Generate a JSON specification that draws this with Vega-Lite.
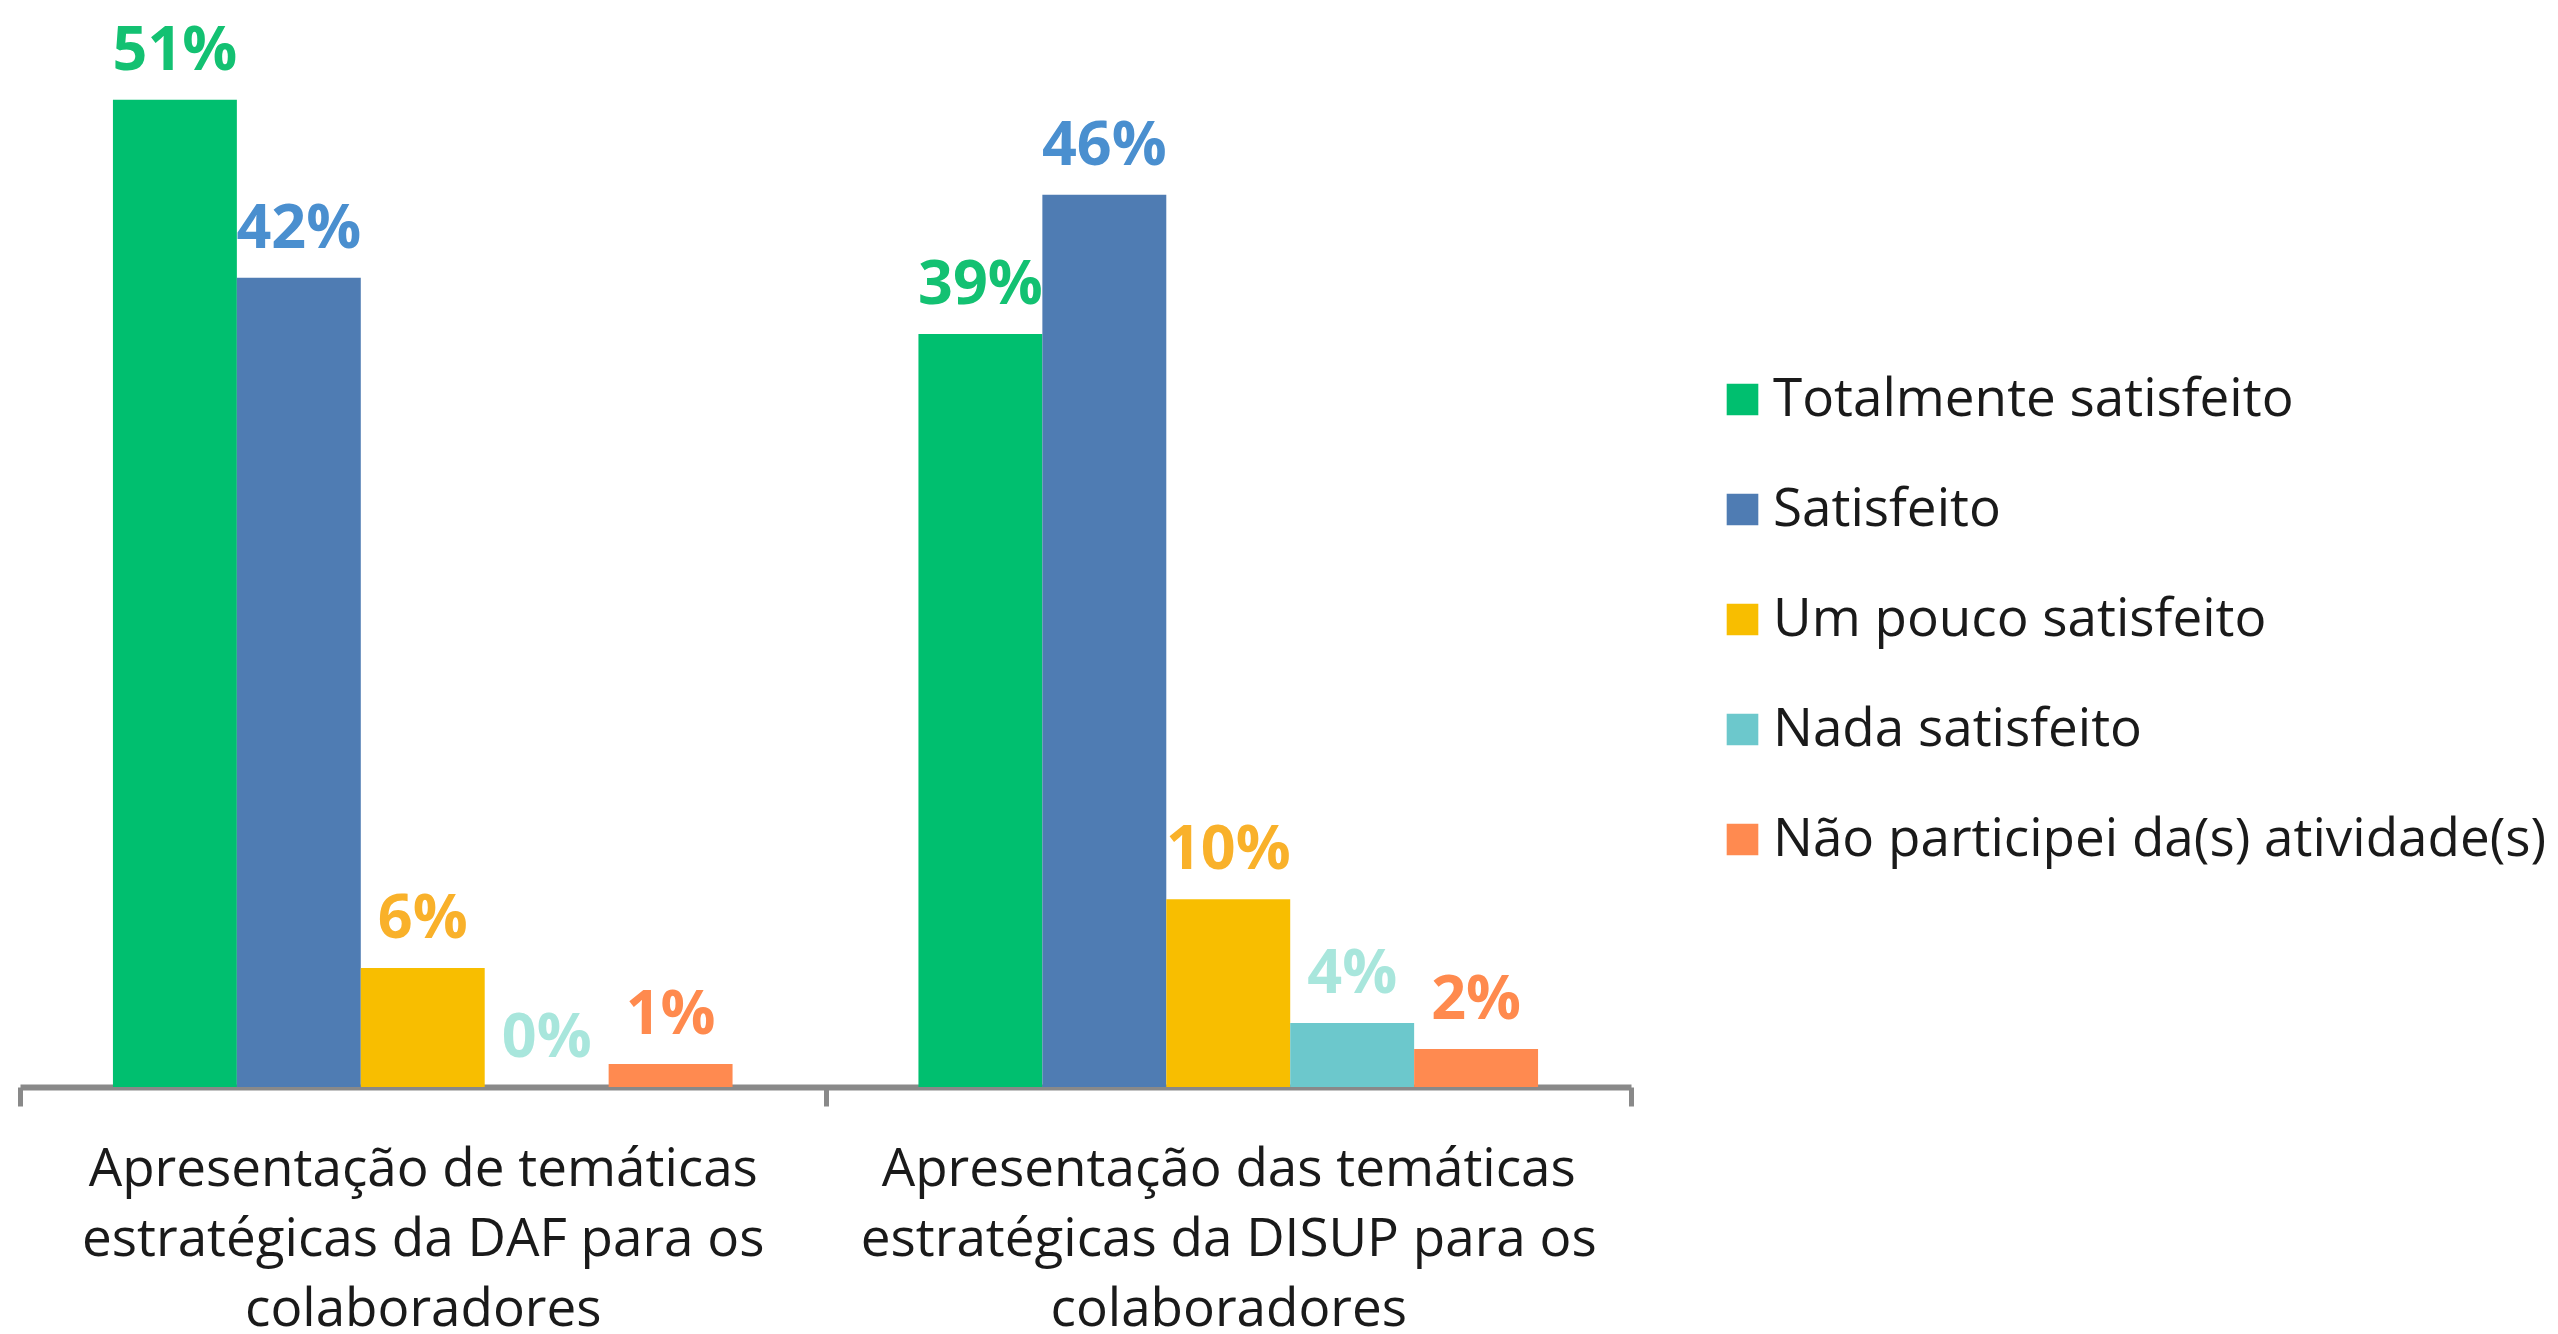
{
  "$schema": "https://vega.github.io/schema/vega-lite/v6.json",
  "autosize": "none",
  "width": 1611,
  "height": 1084,
  "padding": {"left": 20, "top": 3, "right": 927, "bottom": 247},
  "background": "white",
  "config": {
    "view": {"stroke": null},
    "font": "Open Sans",
    "legend": {"labelFont": "Open Sans"}
  },
  "data": {
    "values": [
      {"tema": "Apresentação de temáticas estratégicas da DAF para os colaboradores", "resposta": "Totalmente satisfeito", "valor": 51.0, "rotulo": "51%"},
      {"tema": "Apresentação de temáticas estratégicas da DAF para os colaboradores", "resposta": "Satisfeito", "valor": 41.8, "rotulo": "42%"},
      {"tema": "Apresentação de temáticas estratégicas da DAF para os colaboradores", "resposta": "Um pouco satisfeito", "valor": 6.15, "rotulo": "6%"},
      {"tema": "Apresentação de temáticas estratégicas da DAF para os colaboradores", "resposta": "Nada satisfeito", "valor": 0, "rotulo": "0%"},
      {"tema": "Apresentação de temáticas estratégicas da DAF para os colaboradores", "resposta": "Não participei da(s) atividade(s)", "valor": 1.19, "rotulo": "1%"},
      {"tema": "Apresentação das temáticas estratégicas da DISUP para os colaboradores", "resposta": "Totalmente satisfeito", "valor": 38.9, "rotulo": "39%"},
      {"tema": "Apresentação das temáticas estratégicas da DISUP para os colaboradores", "resposta": "Satisfeito", "valor": 46.1, "rotulo": "46%"},
      {"tema": "Apresentação das temáticas estratégicas da DISUP para os colaboradores", "resposta": "Um pouco satisfeito", "valor": 9.7, "rotulo": "10%"},
      {"tema": "Apresentação das temáticas estratégicas da DISUP para os colaboradores", "resposta": "Nada satisfeito", "valor": 3.3, "rotulo": "4%"},
      {"tema": "Apresentação das temáticas estratégicas da DISUP para os colaboradores", "resposta": "Não participei da(s) atividade(s)", "valor": 1.96, "rotulo": "2%"}
    ]
  },
  "encoding": {
    "x": {
      "field": "tema", "type": "nominal", "sort": null, "title": null,
      "scale": {"paddingInner": 0, "paddingOuter": 0},
      "axis": {
        "labelAngle": 0,
        "domainColor": "#898989", "domainWidth": 6,
        "tickColor": "#898989", "tickWidth": 5, "tickSize": 19, "tickBand": "extent",
        "labelFont": "Open Sans", "labelFontSize": 53, "labelColor": "#1a1a1a",
        "labelLineHeight": 70, "labelPadding": 37, "labelLimit": 0,
        "labelExpr": "split(replace(replace(datum.label, 'temáticas ', 'temáticas|'), ' colaboradores', '|colaboradores'), '|')"
      }
    },
    "xOffset": {
      "field": "resposta", "type": "nominal", "sort": null,
      "scale": {"paddingInner": 0, "paddingOuter": 0.75}
    },
    "y": {
      "field": "valor", "type": "quantitative",
      "scale": {"domain": [0, 56], "nice": false},
      "axis": null
    }
  },
  "layer": [
    {
      "mark": {"type": "bar"},
      "encoding": {
        "color": {
          "field": "resposta", "type": "nominal", "sort": null,
          "scale": {
            "domain": ["Totalmente satisfeito", "Satisfeito", "Um pouco satisfeito", "Nada satisfeito", "Não participei da(s) atividade(s)"],
            "range": ["#00BF6F", "#4F7CB3", "#F8BE00", "#6CC8CC", "#FF8A50"]
          },
          "legend": {
            "title": null, "orient": "none", "legendX": 1696, "legendY": 370,
            "symbolType": "square", "symbolSize": 1000, "symbolStrokeWidth": 0,
            "labelFontSize": 53, "labelColor": "#1a1a1a", "labelOffset": 4,
            "rowPadding": 56, "padding": 0, "labelLimit": 0
          }
        }
      }
    },
    {
      "mark": {"type": "text", "font": "Open Sans", "fontWeight": "bold", "fontSize": 61, "baseline": "alphabetic", "dy": -30},
      "encoding": {
        "text": {"field": "rotulo"},
        "color": {
          "field": "resposta", "type": "nominal", "sort": null,
          "scale": {
            "domain": ["Totalmente satisfeito", "Satisfeito", "Um pouco satisfeito", "Nada satisfeito", "Não participei da(s) atividade(s)"],
            "range": ["#13C172", "#4A8FCF", "#F9B12A", "#A8E6DC", "#FF8A4E"]
          },
          "legend": null
        }
      }
    }
  ],
  "resolve": {"scale": {"color": "independent"}}
}
